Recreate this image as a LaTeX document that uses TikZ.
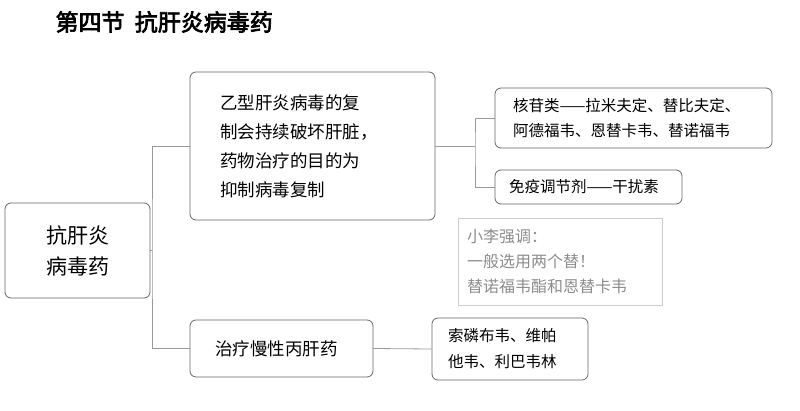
\documentclass[tikz,border=0pt]{standalone}
\usepackage{fontspec}
\setmainfont{Noto Sans CJK SC}
\newfontfamily\cjkbold[FakeBold=3]{Noto Sans CJK SC}
\usetikzlibrary{positioning}
\begin{document}
\begin{tikzpicture}
  [
    x=1pt, y=-1pt,
    Box/.style={draw=black!60, rounded corners=6pt, thick, align=left, inner ysep=0pt},
    Note/.style={draw=black!20, thick, align=left, text=black!45, inner ysep=0pt},
    Link/.style={draw=black!40, thick}
  ]
  \useasboundingbox (0,0) rectangle (800,410);
  % Title
  \node[anchor=west, font=\cjkbold\fontsize{23}{26}\selectfont] (title) at (52,22) {第四节\ \ 抗肝炎病毒药};
  % Boxes
  \node[Box, minimum width=145, minimum height=95, align=center, font=\fontsize{21}{31}\selectfont] (root) at (77.5,250.5) {抗肝炎\\病毒药};
  \node[Box, inner xsep=30, text width=185, minimum height=148, font=\fontsize{17.5}{29}\selectfont] (repl) at (312.5,146) {乙型肝炎病毒的复\\制会持续破坏肝脏，\\药物治疗的目的为\\抑制病毒复制};
  \node[Box, inner xsep=25, text width=133, minimum height=57, font=\fontsize{17.5}{20}\selectfont] (chronic) at (281.5,348.5) {治疗慢性丙肝药};
  \node[Box, inner xsep=18, text width=241, minimum height=60, font=\fontsize{15.5}{25}\selectfont] (nuc) at (633.5,118) {核苷类——拉米夫定、替比夫定、\\阿德福韦、恩替卡韦、替诺福韦};
  \node[Box, inner xsep=14, text width=159, minimum height=34, font=\fontsize{15.5}{18}\selectfont] (immu) at (588.5,187) {免疫调节剂——干扰素};
  \node[Box, inner xsep=16, text width=124, minimum height=62, font=\fontsize{15.5}{26}\selectfont] (drugs) at (510,349) {索磷布韦、维帕\\他韦、利巴韦林};
  \node[Note, inner xsep=9, text width=186, minimum height=87, font=\fontsize{16}{25}\selectfont] (note) at (560,261.5) {小李强调：\\一般选用两个替！\\替诺福韦酯和恩替卡韦};

  % Lines
  \coordinate (j1) at (152,250.5);
  \coordinate (j2) at (475,146);
  \draw[Link] (root.east) -- (j1);
  \draw[Link] (repl.west) -| (j1) |- (chronic.west);
  \draw[Link] (repl.east) -- (j2);
  \draw[Link] (nuc.west) -| (j2) |- (immu.west);
  \draw[Link] (chronic.east) -- (drugs.west);
\end{tikzpicture}
\end{document}
